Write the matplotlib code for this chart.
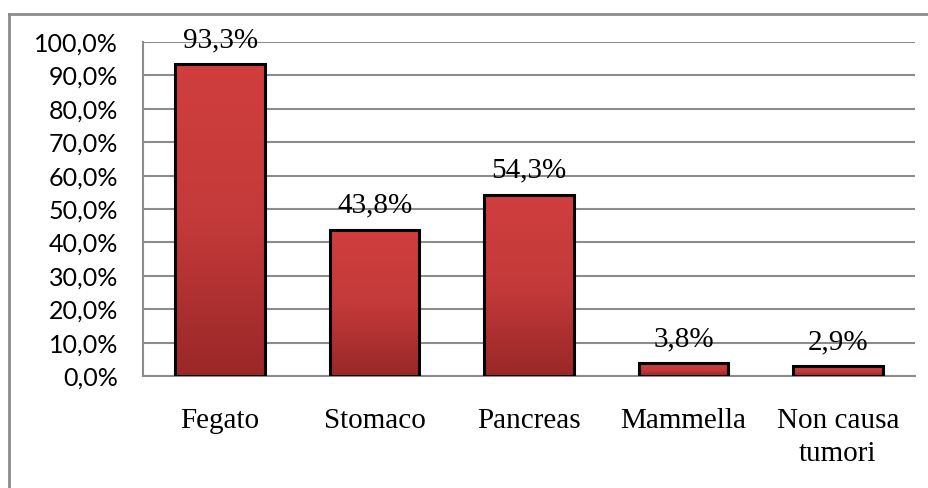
import numpy as np
import matplotlib
matplotlib.use("Agg")
import matplotlib.pyplot as plt
from matplotlib.colors import LinearSegmentedColormap
from matplotlib.lines import Line2D

categories = ["Fegato", "Stomaco", "Pancreas", "Mammella", "Non causa\ntumori"]
values = [93.3, 43.8, 54.3, 3.8, 2.9]
yticks = [0, 10, 20, 30, 40, 50, 60, 70, 80, 90, 100]

fig = plt.figure(figsize=(9.29, 4.88), dpi=100)
ax = fig.add_axes([0.1539, 0.2295, 0.8311, 0.6844])

x = np.arange(len(categories))
bars = ax.bar(x, values, width=0.58, color="none", edgecolor="black", linewidth=2.2, zorder=3)

# vertical gradient inside each bar
cmap = LinearSegmentedColormap.from_list("redgrad", ["#9a2727", "#c43a3a", "#d03e3e"])
grad = np.linspace(0, 1, 256).reshape(-1, 1)
for b in bars:
    x0, w, h = b.get_x(), b.get_width(), b.get_height()
    im = ax.imshow(grad, cmap=cmap, origin="lower", aspect="auto",
                   extent=[x0, x0 + w, 0, h], zorder=2)
    im.set_clip_path(b)

for xi, v in zip(x, values):
    ax.annotate(f"{v:.1f}%".replace(".", ","), (xi, v), xytext=(0, 8),
                textcoords="offset points", ha="center", va="bottom",
                family="Liberation Serif", fontsize=21, zorder=4)

ax.set_xlim(-0.5, len(categories) - 0.5)
ax.set_ylim(0, 100)
ax.set_yticks(yticks)
ax.set_yticklabels([f"{t:.1f}%".replace(".", ",") for t in yticks],
                   family="Lato", fontsize=18)
ax.set_xticks(x)
ax.set_xticklabels(categories, family="Liberation Serif", fontsize=21, linespacing=1.35)
ax.tick_params(length=0)
ax.tick_params(axis="y", pad=18)
ax.tick_params(axis="x", pad=23)
ax.yaxis.grid(True, color="#8c8c8c", linewidth=1.5, zorder=0)
ax.set_axisbelow(True)
for s in ["top", "right"]:
    ax.spines[s].set_visible(False)
for s in ["left", "bottom"]:
    ax.spines[s].set_color("#8c8c8c")
    ax.spines[s].set_linewidth(1.5)

# outer chart border (top and left visible)
fig.add_artist(Line2D([0.0102, 1.0], [0.971, 0.971], color="#8c8c8c", lw=2, transform=fig.transFigure))
fig.add_artist(Line2D([0.0102, 0.0102], [0.0, 0.971], color="#8c8c8c", lw=2, transform=fig.transFigure))

fig.savefig("out.png", dpi=100)
